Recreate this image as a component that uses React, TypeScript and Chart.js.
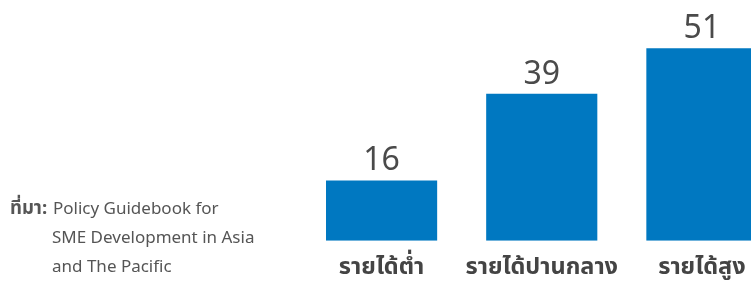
import React, { useEffect, useRef } from "react";
import { Chart, registerables } from "chart.js";

Chart.register(...registerables);

const categories = ["รายได้ต่ำ", "รายได้ปานกลาง", "รายได้สูง"];
const values = [16, 39, 51];
const sourceLabel = "ที่มา:";
const sourceLines = ["Policy Guidebook for", "SME Development in Asia", "and The Pacific"];

const FONT = "'Noto Sans Thai', 'Noto Sans', 'DejaVu Sans', sans-serif";

const valueLabels = {
  id: "valueLabels",
  afterDatasetsDraw(chart: any) {
    const ctx = chart.ctx;
    const meta = chart.getDatasetMeta(0);
    ctx.save();
    ctx.font = `32px ${FONT}`;
    ctx.fillStyle = "#4a4a4a";
    ctx.textAlign = "center";
    ctx.textBaseline = "alphabetic";
    meta.data.forEach((bar: any, i: number) => {
      ctx.fillText(String(chart.data.datasets[0].data[i]), bar.x, bar.y - 10);
    });
    ctx.restore();
  },
};

export default function App() {
  const ref = useRef<HTMLCanvasElement>(null);
  useEffect(() => {
    if (!ref.current) return;
    const chart = new Chart(ref.current, {
      type: "bar",
      data: {
        labels: categories,
        datasets: [
          {
            data: values,
            backgroundColor: "#0078c1",
            borderWidth: 0,
            categoryPercentage: 1,
            barPercentage: 0.694,
          },
        ],
      },
      options: {
        responsive: false,
        maintainAspectRatio: false,
        animation: false,
        layout: { padding: { left: 301.5, right: 0, top: 14.4, bottom: 4 } },
        plugins: { legend: { display: false }, tooltip: { enabled: false } },
        scales: {
          x: {
            grid: { display: false, drawTicks: false },
            border: { display: false },
            ticks: {
              color: "#444",
              padding: 14,
              font: { family: FONT, size: 23.5, weight: "bold" },
            },
          },
          y: { display: false, min: 0, max: 60 },
        },
      },
      plugins: [valueLabels],
    });
    return () => chart.destroy();
  }, []);

  return (
    <div
      style={{
        position: "fixed",
        left: 0,
        top: 0,
        width: 751,
        height: 282,
        overflow: "hidden",
        background: "#fff",
      }}
    >
      <canvas ref={ref} width={782} height={301} style={{ position: "absolute", left: 0, top: 0 }} />
      <div
        style={{
          position: "absolute",
          left: 10,
          top: 194,
          fontFamily: FONT,
          fontSize: 17,
          lineHeight: "29px",
          color: "#555",
          whiteSpace: "nowrap",
        }}
      >
        <div>
          <span style={{ fontWeight: "bold", fontSize: 18.5, display: "inline-block", width: 43 }}>{sourceLabel}</span>
          <span>{sourceLines[0]}</span>
        </div>
        <div style={{ paddingLeft: 42 }}>{sourceLines[1]}</div>
        <div style={{ paddingLeft: 42 }}>{sourceLines[2]}</div>
      </div>
    </div>
  );
}
